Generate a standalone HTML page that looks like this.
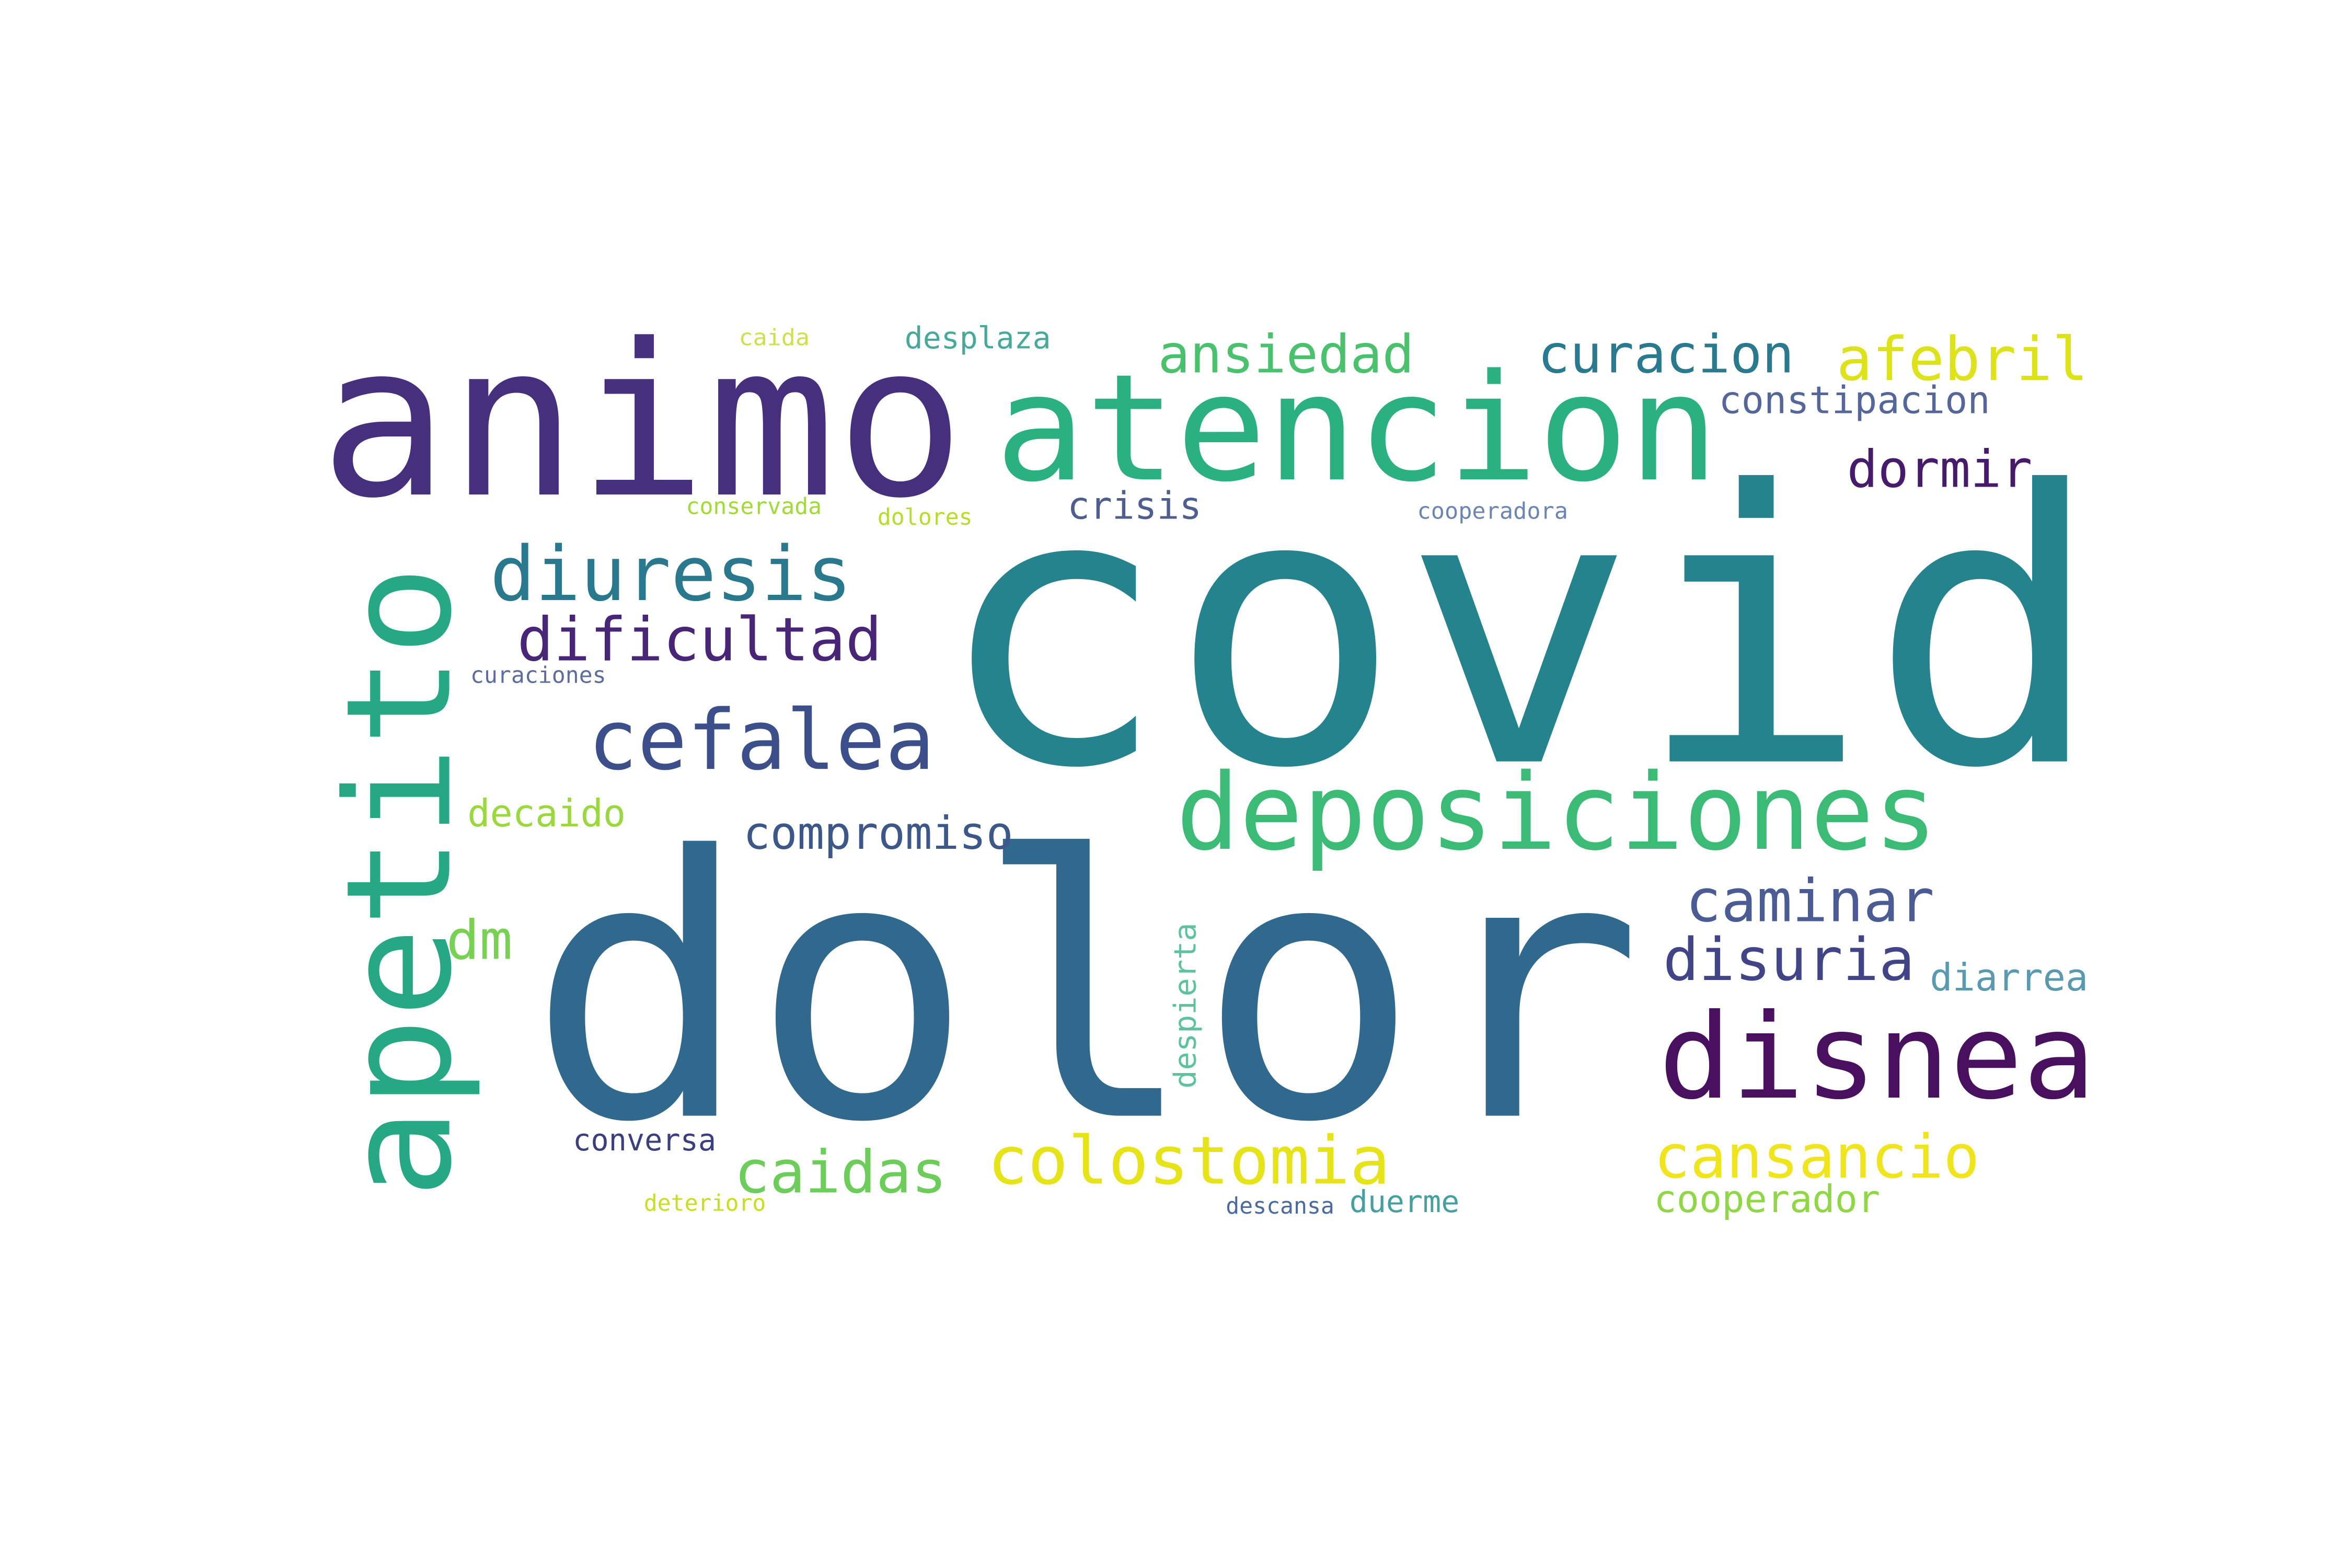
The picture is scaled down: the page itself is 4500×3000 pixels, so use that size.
<!DOCTYPE html>
<html><head><meta charset="utf-8"><style>
html,body{margin:0;padding:0;background:#fff;width:4500px;height:3000px;overflow:hidden}
svg{display:block}
text{font-family:"DejaVu Sans Mono","Liberation Mono",monospace}
</style></head><body>
<svg id="cloud" width="4500" height="3000" viewBox="0 0 1560 1040" xmlns="http://www.w3.org/2000/svg">
<rect width="1560" height="1040" fill="#ffffff"/>
<g id="words"></g>
</svg>
<script>
const words=["covid","dolor","animo","atencion","apetito","deposiciones","disnea","cefalea","diuresis","dificultad","ansiedad","curacion","afebril","constipacion","dormir","crisis","desplaza","caida","conservada","dolores","cooperadora","curaciones","decaido","compromiso","dm","caminar","disuria","diarrea","despierta","conversa","caidas","colostomia","cansancio","cooperador","duerme","descansa","deterioro"];
const fontSizes=[250,240,140,98,96,70,78,55,50,40,35,35,40,25,34,25,20,15,15,15,15,15,25,30,36,39,39,25,20,20,39,44,40,25,20,15,15];
const colors=["#25838e","#30688e","#46307e","#2bb07f","#26a884","#3bbb75","#48105f","#3c4f8a","#2a788e","#482576","#4ac16d","#297a8e","#dde318","#55679a","#481a6c","#4e5f8f","#48a89a","#cde14a","#a2da37","#b5de2b","#6b86b3","#5e6c9e","#9ad83e","#3e5789","#78d152","#4b5b93","#414487","#5a9ab0","#5cc39c","#3b3f80","#6ccd5a","#e6e419","#f0e51d","#8fd744","#47a0a0","#4a6aa0","#c5e022"];
const layoutX=[620,350,212,660,298,780,1100,390,325,343,768,1020,1218,1140,1225,708,600,490,455,582,940,312,310,493,296,1118,1103,1280,793,380,487,655,1097,1097,895,813,427];
const layoutY=[505,740,328,318,795,563,728,510,398,438,247,247,252,274,323,344,231,229,341,348,344,453,548,563,636,611,650,657,722,763,791,785,781,804,804,805,803];
const layoutLen=[775,740,428,480,420,505,290,230,240,242,170,170,167,180,123,89,97,47,90,63,100,90,105,179,44,165,167,105,110,95,141,267,216,150,73,72,81];
const vertical=[0,0,0,0,1,0,0,0,0,0,0,0,0,0,0,0,0,0,0,0,0,0,0,0,0,0,0,0,1,0,0,0,0,0,0,0,0];
const g=document.getElementById('words');
const NS="http://www.w3.org/2000/svg";
words.forEach((w,i)=>{
  const t=document.createElementNS(NS,'text');
  t.textContent=w;
  t.setAttribute('font-size',fontSizes[i]);
  t.setAttribute('fill',colors[i]);
  t.setAttribute('textLength',layoutLen[i]);
  t.setAttribute('lengthAdjust','spacingAndGlyphs');
  if(vertical[i]){
    t.setAttribute('x',0);t.setAttribute('y',0);
    t.setAttribute('transform','translate('+layoutX[i]+','+layoutY[i]+') rotate(-90)');
  }else{
    t.setAttribute('x',layoutX[i]);t.setAttribute('y',layoutY[i]);
  }
  
  
  g.appendChild(t);
});
</script>
</body></html>
